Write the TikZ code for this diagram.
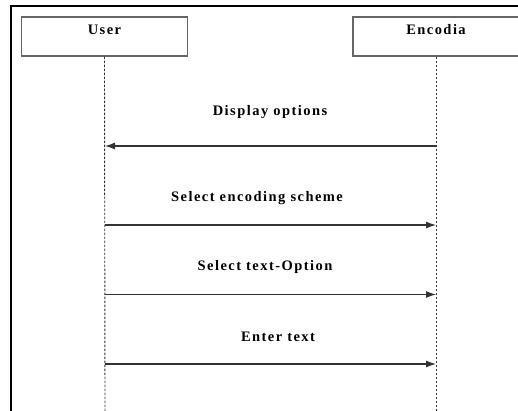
\documentclass[tikz,border=0pt]{standalone}
\usepackage{fontspec}
\setmainfont{Liberation Serif}
\newfontfamily\lblfont[LetterSpace=10]{Liberation Serif}
\usetikzlibrary{arrows.meta}
\begin{document}
\begin{tikzpicture}[x=1pt,y=-1pt,
  actorbox/.style={draw=black!60,line width=1.3pt,minimum width=166pt,minimum height=39pt,inner sep=0pt},
  actorlbl/.style={font=\lblfont\fontsize{14.5}{16}\selectfont\bfseries,inner sep=0pt},
  msglbl/.style={font=\lblfont\fontsize{14.5}{16}\selectfont\bfseries,inner sep=0pt},
  lifeline/.style={draw=black!80,line width=0.9pt,dash pattern=on 2.5pt off 1.5pt},
  msg/.style={draw=black!80,line width=1.1pt,-{Latex[length=10pt,width=7pt]}},
  frameline/.style={draw=black,line width=2pt}]
\useasboundingbox (0,0) rectangle (518,410);
% frame
\coordinate (fTL) at (11,5.5);
\coordinate (fTR) at (530,5.5);
\coordinate (fBL) at (11,415);
\draw[frameline] (fBL) -- (fTL) -- (fTR);
% actors
\node[actorbox] (user) at (104.5,36.5) {};
\node[actorbox] (enc) at (436,36.5) {};
\node[actorlbl] (userl) at (104.5,30) {User};
\node[actorlbl] (encl) at (436,30) {Encodia};
% lifelines
\coordinate (uend) at (105,412);
\coordinate (eend) at (436,412);
\draw[lifeline] (user.south) -- (uend);
\draw[lifeline] (enc.south) -- (eend);
% messages
\coordinate (u1) at (105,146); \coordinate (e1) at (436,146);
\coordinate (u2) at (105,225); \coordinate (e2) at (436,225);
\coordinate (u3) at (105,294.5); \coordinate (e3) at (436,294.5);
\coordinate (u4) at (105,364); \coordinate (e4) at (436,364);
\draw[msg] (e1) -- (u1);
\draw[msg] (u2) -- (e2);
\draw[msg] (u3) -- (e3);
\draw[msg] (u4) -- (e4);
\node[msglbl] (m1) at (270,112) {Display options};
\node[msglbl] (m2) at (257,198) {Select encoding scheme};
\node[msglbl] (m3) at (265,267) {Select text-Option};
\node[msglbl] (m4) at (278,337) {Enter text};
\end{tikzpicture}
\end{document}
